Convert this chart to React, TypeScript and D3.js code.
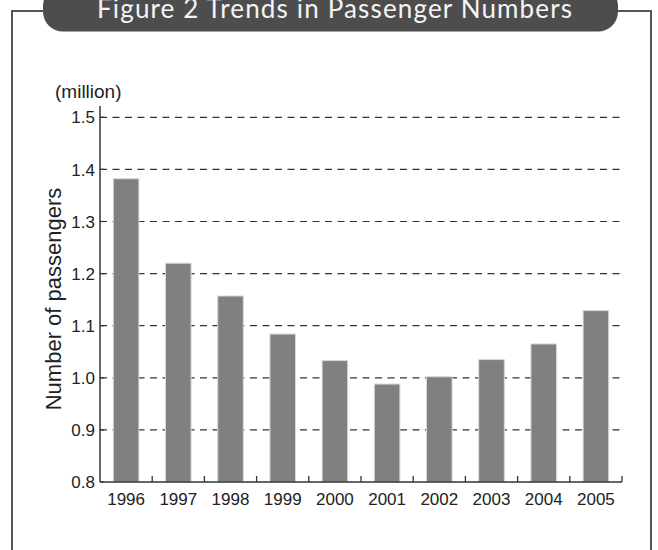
import React from "react";
import * as d3 from "d3";

const years = ["1996", "1997", "1998", "1999", "2000", "2001", "2002", "2003", "2004", "2005"];
const passengers = [1.382, 1.22, 1.157, 1.084, 1.033, 0.988, 1.002, 1.035, 1.065, 1.129];
const yTicks = [0.8, 0.9, 1.0, 1.1, 1.2, 1.3, 1.4, 1.5];
const titleText = "Figure 2  Trends in Passenger Numbers";
const yTitle = "Number of passengers";
const unitLabel = "(million)";

const W = 658;
const H = 550;
const left = 100;
const right = 622;
const top = 117.3;
const bottom = 482;

export default function App() {
  const x = d3.scaleBand<string>().domain(years).range([left, right]).paddingInner(0.51).paddingOuter(0.255);
  const y = d3.scaleLinear().domain([0.8, 1.5]).range([bottom, top]);
  const step = x.step();
  const bw = x.bandwidth();
  const font = "'Liberation Sans', Arial, sans-serif";
  return (
    <svg width={W} height={H} style={{ position: "absolute", left: 0, top: 0, background: "#fff" }}>
      {/* frame */}
      <path d={`M12,${H} V11 H50 M610,11 H651 V${H}`} fill="none" stroke="#555" strokeWidth={2} />
      <rect x={43} y={-14} width={575} height={45.5} rx={20} ry={20} fill="#4d4d4d" />
      <text x={334.5} y={18} textAnchor="middle" fill="#f4f4f4" fontFamily="Lato, 'Open Sans', sans-serif" fontSize={26}
        textLength={475} lengthAdjust="spacing">
        {titleText}
      </text>

      {/* grid */}
      {yTicks.filter((t) => t > 0.8).map((t) => (
        <line key={"g" + t} x1={left} x2={right} y1={y(t)} y2={y(t)} stroke="#333" strokeWidth={1.2} strokeDasharray="7,5.5" />
      ))}

      {/* bars */}
      {years.map((yr, i) => (
        <rect
          key={yr}
          x={x(yr)}
          y={y(passengers[i])}
          width={bw}
          height={y(0.8) - y(passengers[i])}
          fill="#808081"
          stroke="#d8d8d8"
          strokeWidth={1}
        />
      ))}

      {/* axes */}
      <line x1={left} x2={left} y1={106} y2={bottom} stroke="#333" strokeWidth={1.5} />
      <line x1={left} x2={right} y1={bottom} y2={bottom} stroke="#333" strokeWidth={1.5} />
      {yTicks.map((t) => (
        <g key={"t" + t}>
          <line x1={left} x2={left + 4} y1={y(t)} y2={y(t)} stroke="#333" strokeWidth={1.2} />
          <text x={left - 5} y={y(t)} dy="0.36em" textAnchor="end" fontFamily={font} fontSize={17} fill="#222">
            {t.toFixed(1)}
          </text>
        </g>
      ))}
      {years.map((yr) => {
        const bx = (x(yr) as number) + bw + (step - bw) / 2;
        return <line key={"xt" + yr} x1={bx} x2={bx} y1={bottom} y2={bottom - 6} stroke="#333" strokeWidth={1.3} />;
      })}
      {years.map((yr) => (
        <text key={"xl" + yr} x={(x(yr) as number) + bw / 2} y={505} textAnchor="middle" fontFamily={font} fontSize={17} fill="#222">
          {yr}
        </text>
      ))}
      <text x={55} y={98} fontFamily={font} fontSize={19} fill="#222">
        {unitLabel}
      </text>
      <text transform={`translate(61,299) rotate(-90)`} textAnchor="middle" fontFamily={font} fontSize={22} fill="#222">
        {yTitle}
      </text>
    </svg>
  );
}
